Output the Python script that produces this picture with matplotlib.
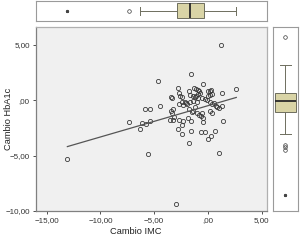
import matplotlib
matplotlib.use("Agg")
import matplotlib.pyplot as plt
import numpy as np

plt.rcParams['font.family'] = ['Liberation Sans', 'DejaVu Sans']

# Scatter data: Cambio IMC (x) vs Cambio HbA1c (y)
imc = [-13.08, 1.22, -1.60, -4.64, 2.64, -0.43, -1.26, -1.14, -2.78, -2.72, 1.34, -3.47,
       -7.37, -6.13, -5.76, -5.39, -6.32, -5.82, -5.39, -4.46, -5.54, 1.03, -2.94, -1.79,
       -2.38, -2.78, -1.60, -0.67, -0.30, 0.69, 0.29, -0.02, 1.37, 0.72,
       -2.57, -2.38, -1.67, -1.42, -1.14, -0.89, -3.37, -2.44, -2.13, -1.98, -1.67, -1.36,
       -1.05, -2.66, -2.29, -2.04, -3.47, -3.31, -3.22, -1.73, -1.51, -1.36, -1.20, -3.53,
       -3.28, -3.16, -2.66, -2.29, -2.44, -1.82, -1.57, 0.19, 0.41, 0.60, 0.81, 1.03, 1.28,
       -1.05, -0.83, -0.52, -0.64, -0.43, 0.19, 0.41, -0.43, 0.04, 0.29, 0.41, 0.19, -0.02,
       -0.89, -0.74, -1.20, -0.89, -0.58, -0.27, -0.12, -1.73, -0.86, 0.22]
hba1c = [-5.30, 4.94, 2.35, 1.75, 1.02, 1.48, 1.14, 1.02, 1.14, 0.66, 0.66, 0.24,
         -1.99, -2.08, -2.17, -1.90, -2.59, -0.78, -0.78, -0.54, -4.88, -4.79, -9.40, -3.89,
         -3.07, -2.59, -2.80, -2.89, -2.89, -2.80, -3.22, -3.46, -1.90, -0.57,
         0.36, 0.27, 0.51, 0.36, 0.36, 0.54, 0.21, -0.18, -0.18, -0.36, -0.18, -0.09,
         -0.18, -0.39, -0.45, -0.30, -0.99, -1.14, -0.84, -0.84, -1.08, -0.99, -0.60, -1.81,
         -1.75, -1.51, -1.81, -1.90, -2.20, -1.60, -1.90, -0.18, -0.39, -0.30, -0.60, -0.69, -0.54,
         -1.14, -1.30, -1.14, -1.45, -1.60, -0.99, -1.14, -1.99, 0.81, 0.90, 0.57, 0.51, 0.42,
         0.96, 0.66, 0.30, 0.21, 0.15, 0.09, -0.03, 0.84, 0.84, 0.84]

# Fit line
fit_slope = 0.282
fit_intercept = -0.50

# Boxplot statistics
imc_box = dict(whislo=-6.35, q1=-2.85, med=-1.64, q3=-0.40, whishi=2.60, fliers=[-7.37])
imc_extreme = [-13.08]
hba_box = dict(whislo=-3.88, q1=-1.85, med=-0.82, q3=-0.10, whishi=2.42,
               fliers=[4.94, -4.85, -5.06, -5.30])
hba_extreme = [-9.40]

xticks = [-15, -10, -5, 0, 5]
xticklabels = ['\u221215,00', '\u221210,00', '\u22125,00', ',00', '5,00']
yticks = [-10, -5, 0, 5]
yticklabels = ['\u221210,00', '\u22125,00', ',00', '5,00']

fig = plt.figure(figsize=(3.0, 2.4), dpi=100)
fig.patch.set_facecolor('white')

box_fill = '#d9d4a6'
box_edge = '#6e6e5e'
spine_col = '#9a9a9a'

# Main scatter
ax = fig.add_axes([0.12, 0.1208, 0.77, 0.7667])
ax.set_facecolor('#f0f0f0')
ax.plot(imc, hba1c, linestyle='none', marker='o', ms=3.0, mfc='none', mec='#3a3a3a', mew=0.6)
xl = np.array([min(imc), max(imc)])
ax.plot(xl, fit_intercept + fit_slope * xl, color='#555555', lw=0.9)
ax.set_xlim(-16.0, 5.5)
ax.set_ylim(-10.0, 6.6)
ax.set_xticks(xticks)
ax.set_xticklabels(xticklabels)
ax.set_yticks(yticks)
ax.set_yticklabels(yticklabels)
ax.tick_params(labelsize=5.8, length=2.5, width=0.6, colors='#333333', pad=2)
for side in ['left', 'bottom']:
    ax.spines[side].set_color('#808080')
    ax.spines[side].set_linewidth(0.9)
for side in ['top', 'right']:
    ax.spines[side].set_color('#b0b0b0')
    ax.spines[side].set_linewidth(0.9)
ax.set_xlabel('Cambio IMC', fontsize=6.7, color='#222222')
ax.xaxis.set_label_coords(0.43, -0.085)
ax.set_ylabel('Cambio HbA1c', fontsize=6.7, color='#222222')
ax.yaxis.set_label_coords(-0.10, 0.5)

boxkw = dict(patch_artist=True, showfliers=True,
             boxprops=dict(facecolor=box_fill, edgecolor=box_edge, linewidth=0.7),
             medianprops=dict(color='#2a2a2a', linewidth=1.3),
             whiskerprops=dict(color=box_edge, linewidth=0.7),
             capprops=dict(color=box_edge, linewidth=0.7),
             flierprops=dict(marker='o', ms=2.6, mfc='none', mec='#3a3a3a', mew=0.5))

# Top boxplot (IMC)
axt = fig.add_axes([0.12, 0.9138, 0.77, 0.082])
axt.bxp([imc_box], positions=[0.5], widths=[0.76], orientation='horizontal', **boxkw)
axt.plot(imc_extreme, [0.5], linestyle='none', marker='*', ms=2.0, color='#444444')
axt.set_xlim(-16.0, 5.5)
axt.set_ylim(0, 1)
axt.set_xticks([])
axt.set_yticks([])
for s in axt.spines.values():
    s.set_color(spine_col)
    s.set_linewidth(0.8)

# Right boxplot (HbA1c)
axr = fig.add_axes([0.91, 0.1208, 0.0823, 0.7667])
axr.bxp([hba_box], positions=[0.5], widths=[0.84], orientation='vertical', **boxkw)
axr.plot([0.5], hba_extreme, linestyle='none', marker='*', ms=2.0, color='#444444')
axr.set_xlim(0, 1)
axr.set_ylim(-10.86, 5.88)
axr.set_xticks([])
axr.set_yticks([])
for s in axr.spines.values():
    s.set_color(spine_col)
    s.set_linewidth(0.8)

fig.savefig('out.png', dpi=100)
